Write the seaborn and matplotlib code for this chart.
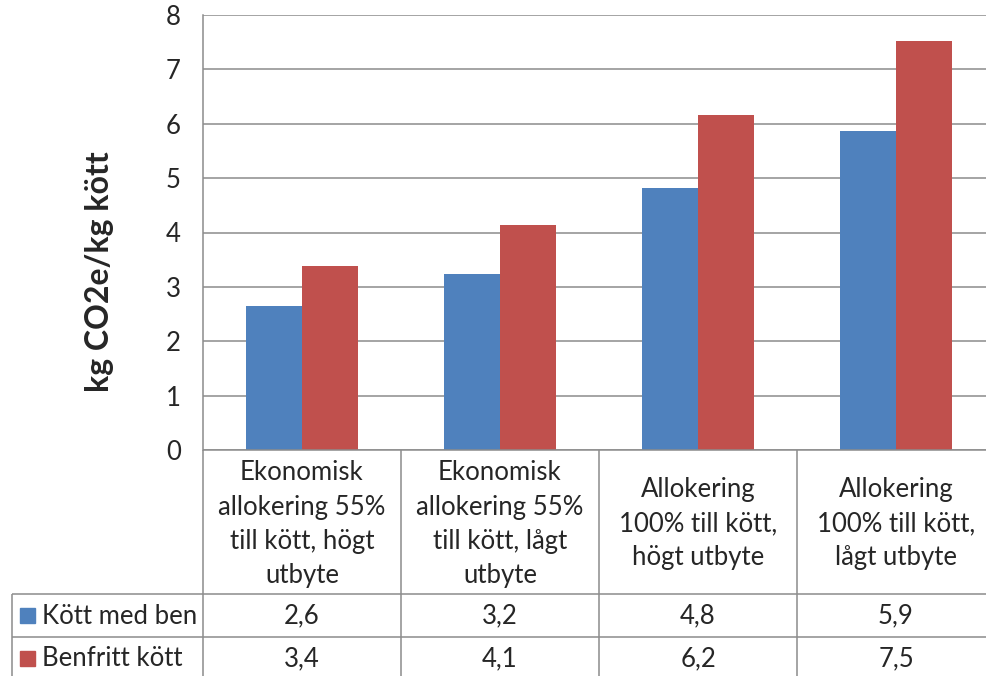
import pandas as pd
import matplotlib
matplotlib.use("Agg")
import matplotlib.pyplot as plt
import seaborn as sns

# data
categories = [
    "Ekonomisk\nallokering 55%\ntill kött, högt\nutbyte",
    "Ekonomisk\nallokering 55%\ntill kött, lågt\nutbyte",
    "Allokering\n100% till kött,\nhögt utbyte",
    "Allokering\n100% till kött,\nlågt utbyte",
]
series_names = ["Kött med ben", "Benfritt kött"]
med_ben = [2.64, 3.23, 4.81, 5.87]
benfritt = [3.38, 4.14, 6.16, 7.52]
colors = ["#4F81BD", "#C0504D"]
grid_color = "#8c8c8c"

df = pd.DataFrame({
    "cat": list(range(4)) * 2,
    "value": med_ben + benfritt,
    "serie": [series_names[0]] * 4 + [series_names[1]] * 4,
})

sns.set_theme(style="white")
plt.rcParams["font.family"] = ["Lato", "DejaVu Sans"]

W, H = 986, 676
fig = plt.figure(figsize=(W / 100, H / 100), dpi=100)
fs = 18.5

# plot area in pixel terms
x0, x1, ytop, ybot = 203, 995, 15, 450
ax = fig.add_axes([x0 / W, 1 - ybot / H, (x1 - x0) / W, (ybot - ytop) / H])

sns.barplot(data=df, x="cat", y="value", hue="serie", palette=colors,
            width=0.566, order=[0, 1, 2, 3], legend=False, ax=ax,
            linewidth=0, saturation=1)

ax.set_ylim(0, 8)
ax.set_xlim(-0.5, 3.5)
ax.set_yticks(range(9))
ax.set_yticklabels([str(i) for i in range(9)], fontsize=fs)
ax.set_xticks([])
ax.set_xlabel("")
ax.set_ylabel("")
ax.tick_params(axis="y", length=0, pad=16)
ax.grid(axis="y", color=grid_color, lw=1.1)
ax.set_axisbelow(True)
for s in ["top", "right", "bottom"]:
    ax.spines[s].set_visible(False)
ax.spines["left"].set_color(grid_color)
ax.spines["left"].set_linewidth(1.1)

fig.text(100 / W, 1 - 272 / H, "kg CO2e/kg kött", rotation=90, fontsize=23,
         fontweight="bold", ha="center", va="center")

# data table below the plot, drawn in pixel coordinates
tab = fig.add_axes([0, 0, 1, 1], facecolor="none")
tab.set_xlim(0, W)
tab.set_ylim(H, 0)
tab.axis("off")

col_edges = [203, 401, 599, 797, 995]
row_top, row1, row2, row_bot = 450, 594, 637, 690

tab.hlines([row_top], 203, 995, color=grid_color, lw=1.1)
tab.hlines([row1, row2], 12, 995, color=grid_color, lw=1.1)
tab.vlines(col_edges[1:], row_top, row_bot, color=grid_color, lw=1.1)
tab.vlines([203], row_top, row_bot, color=grid_color, lw=1.1)
tab.vlines([12], row1, row_bot, color=grid_color, lw=1.1)

for i, lab in enumerate(categories):
    cx = (col_edges[i] + col_edges[i + 1]) / 2
    tab.text(cx, (row_top + row1) / 2 + 2, lab, ha="center", va="center",
             fontsize=fs, linespacing=1.45)

row_centers = [616, 659]
for r, (name, vals) in enumerate(zip(series_names, [med_ben, benfritt])):
    yc = row_centers[r]
    tab.add_patch(plt.Rectangle((20, yc - 8), 15, 15, color=colors[r]))
    tab.text(42, yc, name, ha="left", va="center", fontsize=fs)
    for i, v in enumerate(vals):
        cx = (col_edges[i] + col_edges[i + 1]) / 2
        tab.text(cx, yc, f"{v:.1f}".replace(".", ","), ha="center",
                 va="center", fontsize=fs)

fig.savefig("out.png", dpi=100)
